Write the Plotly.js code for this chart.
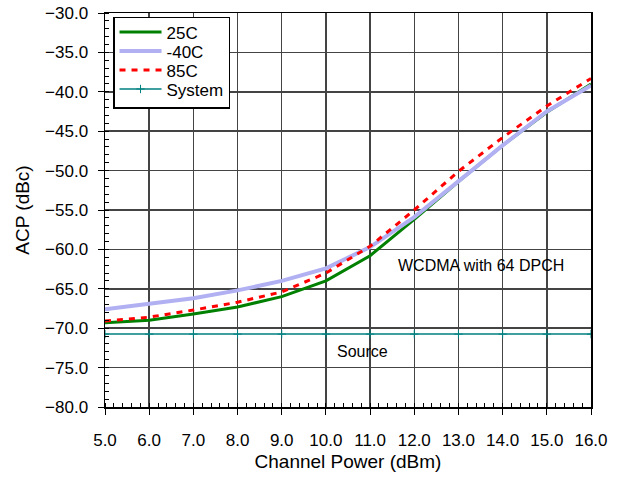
<!DOCTYPE html>
<html>
<head>
<meta charset="utf-8">
<script src="https://cdn.plot.ly/plotly-3.0.1.min.js"></script>
<style>
  html, body { margin: 0; padding: 0; background: #fff; }
  #chart { width: 622px; height: 478px; }
</style>
</head>
<body>
<div id="chart"></div>
<script>
// Channel power (dBm)
const channelPower = [5, 6, 7, 8, 9, 10, 11, 12, 13, 14, 15, 16];
// ACP (dBc) per temperature
const acp25C  = [-69.3, -69.0, -68.2, -67.3, -66.0, -64.0, -60.8, -56.2, -51.4, -46.8, -42.6, -39.0];
const acpM40C = [-67.6, -66.9, -66.2, -65.2, -64.0, -62.4, -59.7, -55.9, -51.4, -46.8, -42.5, -39.2];
const acp85C  = [-69.1, -68.6, -67.7, -66.7, -65.4, -63.0, -59.6, -55.0, -50.1, -45.8, -41.8, -38.3];
const acpSystem = [-70.75, -70.75, -70.75, -70.75, -70.75, -70.75, -70.75, -70.75, -70.75, -70.75, -70.75, -70.75];
const seriesNames = ['25C', '-40C', '85C', 'System'];
const xTickVals = [5, 6, 7, 8, 9, 10, 11, 12, 13, 14, 15, 16];
const yTickVals = [-80, -75, -70, -65, -60, -55, -50, -45, -40, -35, -30];

const FONT = 'Liberation Sans, Arial, sans-serif';

const traces = [
  { x: channelPower, y: acp25C, name: seriesNames[0], type: 'scatter', mode: 'lines',
    line: { color: '#008000', width: 3 } },
  { x: channelPower, y: acpM40C, name: seriesNames[1], type: 'scatter', mode: 'lines',
    line: { color: '#b0b0f2', width: 4 } },
  { x: channelPower, y: acp85C, name: seriesNames[2], type: 'scatter', mode: 'lines',
    line: { color: '#ff0000', width: 3, dash: '6px,6px' } },
  { x: channelPower, y: acpSystem, name: seriesNames[3], type: 'scatter', mode: 'lines+markers',
    line: { color: '#008080', width: 1.5 },
    marker: { symbol: 'cross-thin', size: 6, line: { color: '#008080', width: 1 } } }
];

const layout = {
  width: 622, height: 478,
  margin: { l: 105, r: 31, t: 13, b: 71 },
  paper_bgcolor: '#fff', plot_bgcolor: '#fff',
  font: { family: FONT, color: '#000', size: 16 },
  showlegend: true,
  legend: {
    x: 0.0165, y: 0.99, xanchor: 'left', yanchor: 'top',
    bgcolor: '#fff', bordercolor: '#000', borderwidth: 1.5,
    font: { family: FONT, size: 17, color: '#000' },
    itemwidth: 42,
    tracegroupgap: 0
  },
  xaxis: {
    range: [5, 16], tickvals: xTickVals, tickformat: '.1f',
    ticks: 'outside', ticklen: 6, tickcolor: '#000', tickwidth: 1,
    ticklabelstandoff: 11,
    tickfont: { family: FONT, size: 17 },
    showgrid: true, gridcolor: '#444', gridwidth: 1.5,
    showline: true, linecolor: '#000', linewidth: 1.5, mirror: true,
    zeroline: false,
    minor: { dtick: 0.2, ticks: 'inside', ticklen: 4, tickcolor: '#000', tickwidth: 1, showgrid: false },
    title: { text: 'Channel Power (dBm)', font: { family: FONT, size: 19 }, standoff: 6 }
  },
  yaxis: {
    range: [-80, -30], tickvals: yTickVals, tickformat: '.1f',
    ticks: 'outside', ticklen: 6, tickcolor: '#000', tickwidth: 1,
    ticklabelstandoff: 6,
    tickfont: { family: FONT, size: 17 },
    showgrid: true, gridcolor: '#444', gridwidth: 1.5,
    showline: true, linecolor: '#000', linewidth: 1.5, mirror: true,
    zeroline: false,
    minor: { dtick: 1, ticks: 'inside', ticklen: 4, tickcolor: '#000', tickwidth: 1, showgrid: false },
    title: { text: 'ACP (dBc)', font: { family: FONT, size: 19 }, standoff: 10 }
  },
  annotations: [
    { x: 13.5, y: -62.1, xref: 'x', yref: 'y', text: 'WCDMA with 64 DPCH', showarrow: false,
      font: { family: FONT, size: 16, color: '#000' } },
    { x: 10.83, y: -72.9, xref: 'x', yref: 'y', text: 'Source', showarrow: false,
      font: { family: FONT, size: 16, color: '#000' } }
  ]
};

Plotly.newPlot('chart', traces, layout, { displayModeBar: false, staticPlot: true }).then(function (gd) {
  // tighten legend row spacing to match the reference (19 px per entry)
  const rows = gd.querySelectorAll('.legend .traces');
  if (rows.length < 2) return;
  const parse = el => {
    const m = /translate\(\s*([-\d.]+)[ ,]+([-\d.]+)\s*\)/.exec(el.getAttribute('transform') || '');
    return m ? [parseFloat(m[1]), parseFloat(m[2])] : [0, 0];
  };
  const first = parse(rows[0]);
  const oldStep = parse(rows[1])[1] - first[1];
  const step = 19;
  const lift = 4;
  rows.forEach((r, i) => {
    const p = parse(r);
    r.setAttribute('transform', 'translate(' + p[0] + ',' + (first[1] - lift + i * step) + ')');
  });
  const shrink = (oldStep - step) * (rows.length - 1) + lift;
  gd.querySelectorAll('.legend rect.bg').forEach(bg => {
    const h = parseFloat(bg.getAttribute('height'));
    bg.setAttribute('height', h - shrink);
  });
});
</script>
</body>
</html>
